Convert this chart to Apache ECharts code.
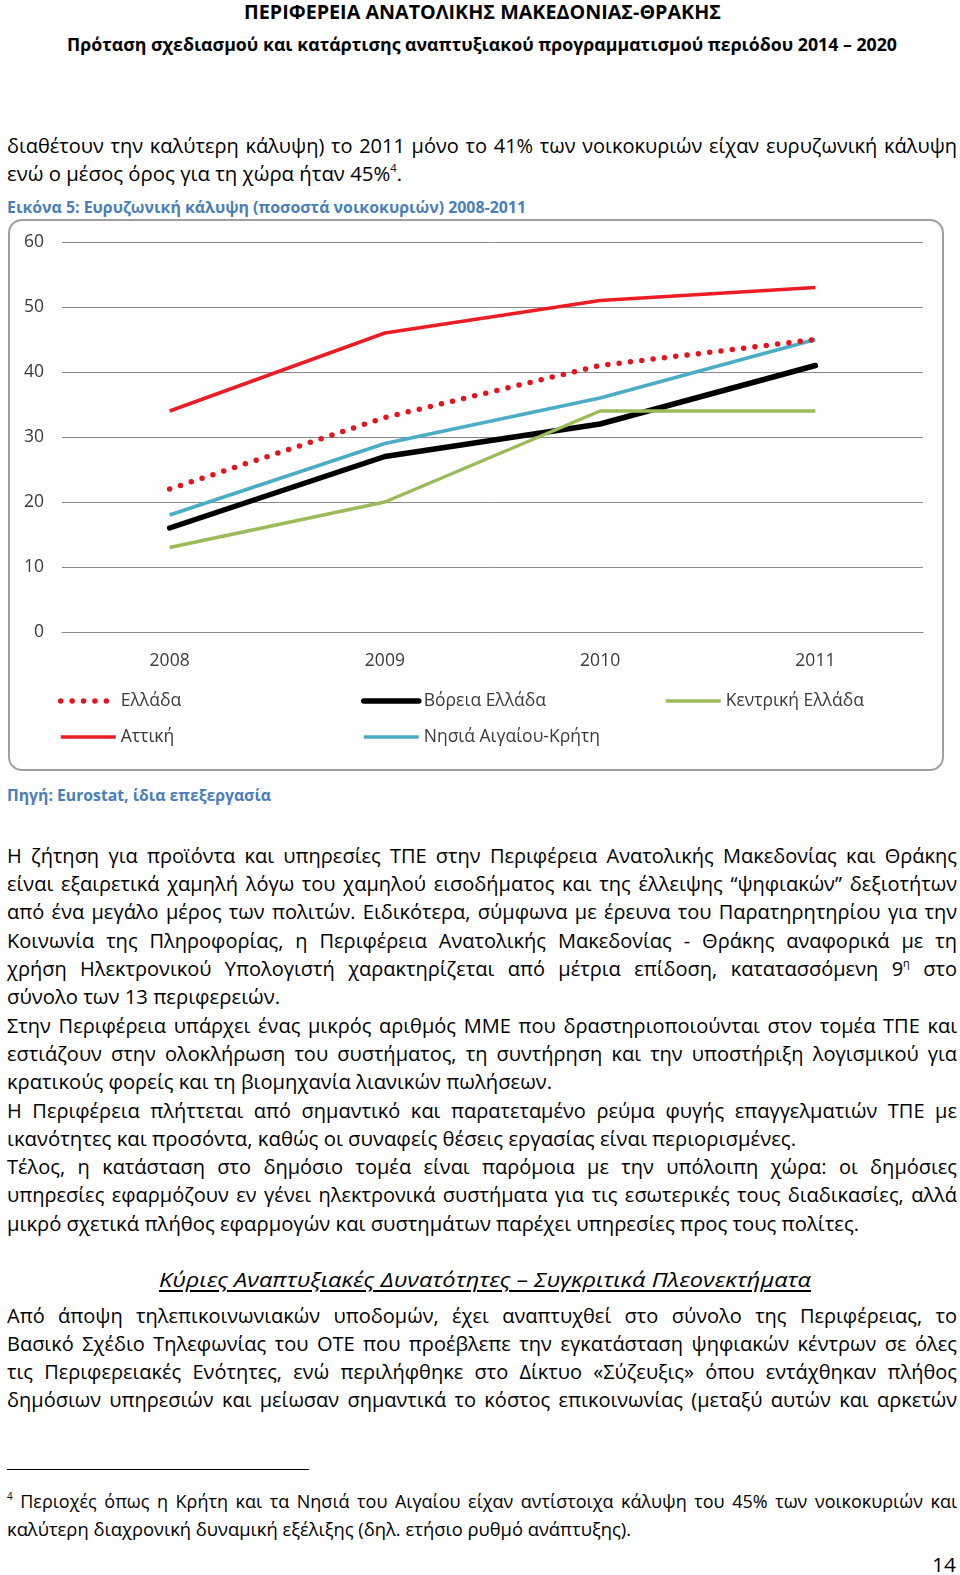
<!DOCTYPE html>
<html><head><meta charset="utf-8">
<script src="https://cdn.jsdelivr.net/npm/echarts@6/dist/echarts.min.js"></script>
<style>
html,body{margin:0;padding:0;background:#fff}
body{width:960px;height:1575px;position:relative;overflow:hidden;font-family:"Open Sans","Noto Sans",sans-serif;color:#000}
.t{position:absolute;white-space:nowrap;line-height:28px;height:28px;font-size:20px;left:7px}
.b{font-weight:bold}
.cap{color:#4a7ebb;font-weight:bold;font-size:16px}
sup{font-size:55%;line-height:0;vertical-align:0.8em}
.hd{font-style:italic;text-decoration:underline;text-underline-offset:3px}
#box{position:absolute;left:8px;top:219px;width:932px;height:548px;border:2px solid #a0a0a0;border-radius:14px;pointer-events:none}
#chart{position:absolute;left:8px;top:219px;width:936px;height:552px}
#rule{position:absolute;left:7px;top:1469px;width:302px;height:0;border-top:1.5px solid #000}
</style></head>
<body>
<div class="t b" style="top:-2px;left:244px;font-size:19px" data-w="477">ΠΕΡΙΦΕΡΕΙΑ ΑΝΑΤΟΛΙΚΗΣ ΜΑΚΕΔΟΝΙΑΣ-ΘΡΑΚΗΣ</div>
<div class="t b" style="top:31px;left:67px;font-size:17px" data-w="830">Πρόταση σχεδιασμού και κατάρτισης αναπτυξιακού προγραμματισμού περιόδου 2014 – 2020</div>

<div class="t j" style="top:132px" data-w="950">διαθέτουν την καλύτερη κάλυψη) το 2011 μόνο το 41% των νοικοκυριών είχαν ευρυζωνική κάλυψη</div>
<div class="t" style="top:160px" data-w="395">ενώ ο μέσος όρος για τη χώρα ήταν 45%<sup>4</sup>.</div>
<div class="t cap" style="top:193px" data-w="519">Εικόνα 5: Ευρυζωνική κάλυψη (ποσοστά νοικοκυριών) 2008-2011</div>

<div id="chart"></div>
<div id="box"></div>

<div class="t cap" style="top:781px" data-w="264">Πηγή: Eurostat, ίδια επεξεργασία</div>

<div class="t j" style="top:842px" data-w="950">Η ζήτηση για προϊόντα και υπηρεσίες ΤΠΕ στην Περιφέρεια Ανατολικής Μακεδονίας και Θράκης</div>
<div class="t j" style="top:870px" data-w="950">είναι εξαιρετικά χαμηλή λόγω του χαμηλού εισοδήματος και της έλλειψης “ψηφιακών” δεξιοτήτων</div>
<div class="t j" style="top:898px" data-w="950">από ένα μεγάλο μέρος των πολιτών. Ειδικότερα, σύμφωνα με έρευνα του Παρατηρητηρίου για την</div>
<div class="t j" style="top:927px" data-w="950">Κοινωνία της Πληροφορίας, η Περιφέρεια Ανατολικής Μακεδονίας - Θράκης αναφορικά με τη</div>
<div class="t j" style="top:955px" data-w="950">χρήση Ηλεκτρονικού Υπολογιστή χαρακτηρίζεται από μέτρια επίδοση, κατατασσόμενη 9<sup>η</sup> στο</div>
<div class="t" style="top:983px" data-w="273">σύνολο των 13 περιφερειών.</div>
<div class="t j" style="top:1012px" data-w="950">Στην Περιφέρεια υπάρχει ένας μικρός αριθμός ΜΜΕ που δραστηριοποιούνται στον τομέα ΤΠΕ και</div>
<div class="t j" style="top:1040px" data-w="950">εστιάζουν στην ολοκλήρωση του συστήματος, τη συντήρηση και την υποστήριξη λογισμικού για</div>
<div class="t" style="top:1068px" data-w="545">κρατικούς φορείς και τη βιομηχανία λιανικών πωλήσεων.</div>
<div class="t j" style="top:1097px" data-w="950">Η Περιφέρεια πλήττεται από σημαντικό και παρατεταμένο ρεύμα φυγής επαγγελματιών ΤΠΕ με</div>
<div class="t" style="top:1125px" data-w="789">ικανότητες και προσόντα, καθώς οι συναφείς θέσεις εργασίας είναι περιορισμένες.</div>
<div class="t j" style="top:1153px" data-w="950">Τέλος, η κατάσταση στο δημόσιο τομέα είναι παρόμοια με την υπόλοιπη χώρα: οι δημόσιες</div>
<div class="t j" style="top:1181px" data-w="950">υπηρεσίες εφαρμόζουν εν γένει ηλεκτρονικά συστήματα για τις εσωτερικές τους διαδικασίες, αλλά</div>
<div class="t" style="top:1210px" data-w="852">μικρό σχετικά πλήθος εφαρμογών και συστημάτων παρέχει υπηρεσίες προς τους πολίτες.</div>

<div class="t hd" style="top:1266px;left:159px" data-w="652">Κύριες Αναπτυξιακές Δυνατότητες – Συγκριτικά Πλεονεκτήματα</div>

<div class="t j" style="top:1302px" data-w="950">Από άποψη τηλεπικοινωνιακών υποδομών, έχει αναπτυχθεί στο σύνολο της Περιφέρειας, το</div>
<div class="t j" style="top:1330px" data-w="950">Βασικό Σχέδιο Τηλεφωνίας του ΟΤΕ που προέβλεπε την εγκατάσταση ψηφιακών κέντρων σε όλες</div>
<div class="t j" style="top:1358px" data-w="950">τις Περιφερειακές Ενότητες, ενώ περιλήφθηκε στο Δίκτυο «Σύζευξις» όπου εντάχθηκαν πλήθος</div>
<div class="t j" style="top:1386px" data-w="950">δημόσιων υπηρεσιών και μείωσαν σημαντικά το κόστος επικοινωνίας (μεταξύ αυτών και αρκετών</div>

<div id="rule"></div>
<div class="t j" style="top:1487px;font-size:18px" data-w="950"><sup>4</sup> Περιοχές όπως η Κρήτη και τα Νησιά του Αιγαίου είχαν αντίστοιχα κάλυψη του 45% των νοικοκυριών και</div>
<div class="t" style="top:1515px;font-size:18px" data-w="624">καλύτερη διαχρονική δυναμική εξέλιξης (δηλ. ετήσιο ρυθμό ανάπτυξης).</div>
<div class="t" style="top:1551px;left:932px" data-w="24">14</div>

<script>
// ---- chart data ----
const years = ['2008', '2009', '2010', '2011'];
const seriesNames = ['Ελλάδα', 'Βόρεια Ελλάδα', 'Κεντρική Ελλάδα', 'Αττική', 'Νησιά Αιγαίου-Κρήτη'];
const ellada   = [22, 33, 41, 45];
const voreia   = [16, 27, 32, 41];
const kentriki = [13, 20, 34, 34];
const attiki   = [34, 46, 51, 53];
const nisia    = [18, 29, 36, 45];
const yMin = 0, yMax = 60, yStep = 10;

// ---- fit text lines to measured widths ----
document.querySelectorAll('.t[data-w]').forEach(function (el) {
  const w = +el.dataset.w;
  const nat = el.getBoundingClientRect().width;
  if (el.classList.contains('j')) {
    const n = (el.textContent.match(/ /g) || []).length;
    if (n > 0) el.style.wordSpacing = ((w - nat) / n) + 'px';
  } else {
    el.style.transformOrigin = '0 50%';
    el.style.transform = 'scaleX(' + (w / nat) + ')';
  }
});

// ---- chart ----
const FONT = '"Open Sans","Noto Sans",sans-serif';
const lbl = { fontFamily: FONT, fontSize: 17.5, color: '#3a3a3a' };
const chart = echarts.init(document.getElementById('chart'));
function legendCol(left, names) {
  return {
    orient: 'vertical', left: left, top: 473, padding: 0,
    itemWidth: 55, itemHeight: 18, itemGap: 18,
    data: names, textStyle: Object.assign({ lineHeight: 18 }, lbl),
    itemStyle: { color: 'rgba(0,0,0,0)', borderWidth: 0, opacity: 0 },
    lineStyle: { width: 'inherit', type: 'inherit', cap: 'inherit' },
    selectedMode: false
  };
}
const option = {
  animation: false,
  grid: { left: 54, right: 21, top: 23, bottom: 139 },
  xAxis: {
    type: 'category', data: years, boundaryGap: true,
    axisLine: { lineStyle: { color: '#8a8a8a', width: 1 } },
    axisTick: { show: false },
    axisLabel: Object.assign({ margin: 20 }, lbl)
  },
  yAxis: {
    type: 'value', min: yMin, max: yMax, interval: yStep,
    axisLine: { show: false }, axisTick: { show: false },
    splitLine: { lineStyle: { color: '#8a8a8a', width: 1 } },
    axisLabel: Object.assign({ margin: 18 }, lbl)
  },
  legend: [
    legendCol(50, [seriesNames[0], seriesNames[3]]),
    legendCol(353, [seriesNames[1], seriesNames[4]]),
    legendCol(656, [seriesNames[2]])
  ],
  series: [
    { name: seriesNames[0], type: 'line', data: ellada, symbol: 'none', z: 5,
      lineStyle: { color: '#e3141c', width: 5.5, type: [0, 11.4], cap: 'round' }, itemStyle: { color: '#e3141c' } },
    { name: seriesNames[1], type: 'line', data: voreia, symbol: 'none', z: 2,
      lineStyle: { color: '#000000', width: 5.5, cap: 'round' }, itemStyle: { color: '#000000' } },
    { name: seriesNames[2], type: 'line', data: kentriki, symbol: 'none', z: 3,
      lineStyle: { color: '#9bbb59', width: 3.5 }, itemStyle: { color: '#9bbb59' } },
    { name: seriesNames[3], type: 'line', data: attiki, symbol: 'none', z: 3,
      lineStyle: { color: '#ec1c24', width: 3.5 }, itemStyle: { color: '#ec1c24' } },
    { name: seriesNames[4], type: 'line', data: nisia, symbol: 'none', z: 4,
      lineStyle: { color: '#4bacc6', width: 3.5 }, itemStyle: { color: '#4bacc6' } }
  ]
};
chart.setOption(option);
</script>
</body></html>
